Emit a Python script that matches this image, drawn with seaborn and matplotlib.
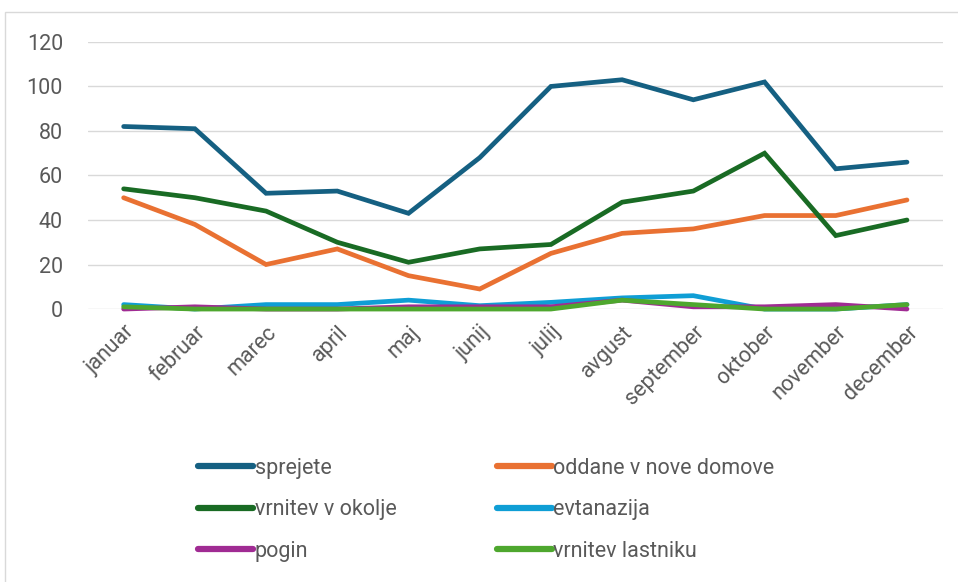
import pandas as pd
import matplotlib.pyplot as plt
import seaborn as sns
from matplotlib.patches import Rectangle

# Data
months = ["januar", "februar", "marec", "april", "maj", "junij", "julij",
          "avgust", "september", "oktober", "november", "december"]
sprejete = [82, 81, 52, 53, 43, 68, 100, 103, 94, 102, 63, 66]
oddane = [50, 38, 20, 27, 15, 9, 25, 34, 36, 42, 42, 49]
vrnitev_okolje = [54, 50, 44, 30, 21, 27, 29, 48, 53, 70, 33, 40]
evtanazija = [2, 0, 2, 2, 4, 1.5, 3, 5, 6, 0, 0, 2]
pogin = [0, 1, 0, 0, 1, 1, 1, 4, 1, 1, 2, 0]
vrnitev_lastniku = [1, 0, 0, 0, 0, 0, 0, 4, 2, 0, 0, 2]

series = {
    "sprejete": sprejete,
    "oddane v nove domove": oddane,
    "vrnitev v okolje": vrnitev_okolje,
    "evtanazija": evtanazija,
    "pogin": pogin,
    "vrnitev lastniku": vrnitev_lastniku,
}
colors = {
    "sprejete": "#156082",
    "oddane v nove domove": "#E97132",
    "vrnitev v okolje": "#196B24",
    "evtanazija": "#0F9ED5",
    "pogin": "#A02B93",
    "vrnitev lastniku": "#4EA72E",
}

rows = []
for name, vals in series.items():
    for m, v in zip(months, vals):
        rows.append({"mesec": m, "stevilo": v, "serija": name})
df = pd.DataFrame(rows)

sns.set_style("white")
plt.rcParams["font.family"] = ["Roboto", "DejaVu Sans"]

fig = plt.figure(figsize=(9.58, 5.82), dpi=100)
ax = fig.add_axes([0.0919, 0.469, 0.892, 0.459])

sns.lineplot(data=df, x="mesec", y="stevilo", hue="serija", palette=colors,
             linewidth=3.4, sort=False, ax=ax, legend=False)
for ln in ax.lines:
    ln.set_clip_on(False)
    ln.set_solid_capstyle("round")
    ln.set_solid_joinstyle("miter")

ax.set_xlim(-0.5, 11.5)
ax.set_ylim(0, 120)
ax.set_yticks(range(0, 121, 20))
ax.yaxis.grid(True, color="#D9D9D9", linewidth=1.0)
ax.set_axisbelow(True)
for s in ax.spines.values():
    s.set_visible(False)
ax.set_xlabel("")
ax.set_ylabel("")
ax.tick_params(axis="both", length=0, labelsize=15.5, colors="#595959")
ax.tick_params(axis="y", pad=18)
ax.tick_params(axis="x", pad=9)
plt.setp(ax.get_xticklabels(), rotation=45, ha="right", rotation_mode="anchor")

# legend, filled column-wise so the rows read like the reference
order = ["sprejete", "vrnitev v okolje", "pogin",
         "oddane v nove domove", "evtanazija", "vrnitev lastniku"]
handles = [plt.Line2D([], [], color=colors[n], linewidth=4.5, solid_capstyle="round")
           for n in order]
fig.legend(handles, order, loc="upper left", bbox_to_anchor=(0.198, 0.228),
           ncol=2, frameon=False, fontsize=15.5, labelcolor="#595959",
           handlelength=2.55, handletextpad=0.08, columnspacing=4.65,
           labelspacing=0.95, borderaxespad=0)

# outer chart border
fig.patches.append(Rectangle((5 / 958, -0.01), 1.0, 1 - 12 / 582 + 0.01,
                             transform=fig.transFigure, fill=False,
                             edgecolor="#D9D9D9", linewidth=1.0))

fig.savefig("out.png", dpi=100)
